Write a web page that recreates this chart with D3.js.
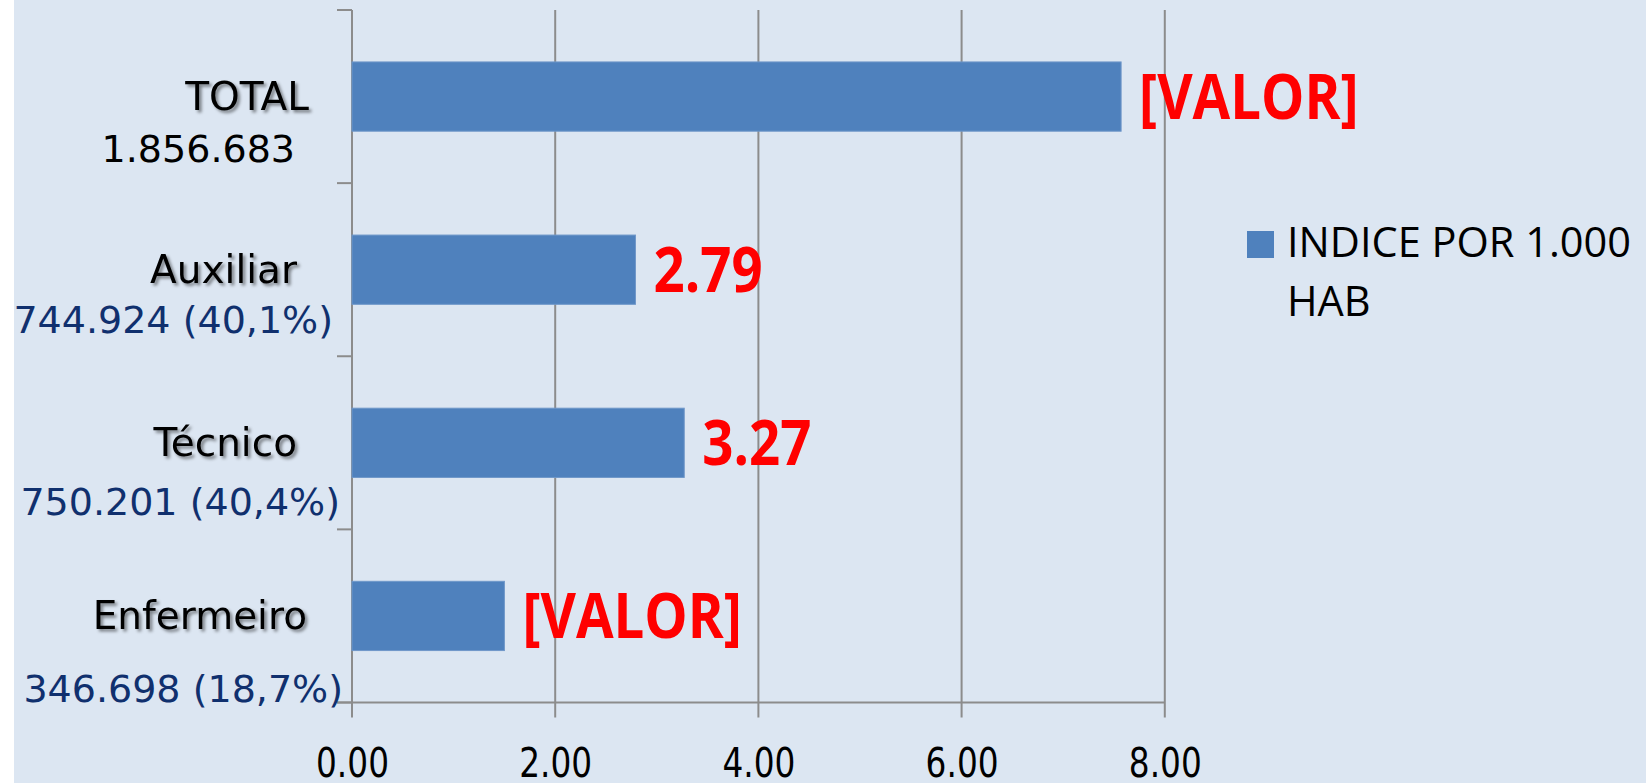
<!DOCTYPE html>
<html>
<head>
<meta charset="utf-8">
<script src="https://cdn.jsdelivr.net/npm/d3@7"></script>
<style>
  html, body { margin: 0; padding: 0; background: #ffffff; }
  svg { display: block; }
</style>
</head>
<body>
<svg id="chart" width="1646" height="783"></svg>
<script>
// ---- data ----
const categories = ["TOTAL", "Auxiliar", "Técnico", "Enfermeiro"];
const countLabels = ["1.856.683", "744.924 (40,1%)", "750.201 (40,4%)", "346.698 (18,7%)"];
const values = [7.57, 2.79, 3.27, 1.50];
const valueLabels = ["[VALOR]", "2.79", "3.27", "[VALOR]"];
const xTicks = [0, 2, 4, 6, 8];
const seriesName = ["INDICE POR 1.000", "HAB"];

// ---- layout / style ----
const W = 1646, H = 783;
const plot = { left: 352, right: 1164.8, top: 10, bottom: 702.5 };
const barColor = "#4F81BD";
const gridColor = "#8C8C8C";
const bg = "#DCE6F2";

const svg = d3.select("#chart");

const defs = svg.append("defs");
const f = defs.append("filter").attr("id", "shadow")
  .attr("x", "-10%").attr("y", "-20%").attr("width", "130%").attr("height", "160%");
f.append("feDropShadow").attr("dx", 2.5).attr("dy", 2.5).attr("stdDeviation", 1.6)
  .attr("flood-color", "#000").attr("flood-opacity", 0.45);

svg.append("rect").attr("x", 14).attr("y", 0).attr("width", W - 14).attr("height", H).attr("fill", bg);

const x = d3.scaleLinear().domain([0, 8]).range([plot.left, plot.right]);
const y = d3.scaleBand().domain(categories).range([plot.top, plot.bottom])
  .paddingInner(0.6).paddingOuter(0.3);

// vertical gridlines (extend below axis as ticks)
svg.append("g").selectAll("line").data(xTicks).join("line")
  .attr("x1", d => x(d)).attr("x2", d => x(d))
  .attr("y1", plot.top).attr("y2", plot.bottom + 15)
  .attr("stroke", gridColor).attr("stroke-width", 2);

// x axis line
svg.append("line").attr("x1", plot.left - 15).attr("x2", plot.right)
  .attr("y1", plot.bottom).attr("y2", plot.bottom)
  .attr("stroke", gridColor).attr("stroke-width", 2);

// category tick marks at band boundaries
const step = y.step();
const boundaries = d3.range(categories.length + 1).map(i => plot.top + i * step);
svg.append("g").selectAll("line").data(boundaries).join("line")
  .attr("x1", plot.left - 15).attr("x2", plot.left)
  .attr("y1", d => d).attr("y2", d => d)
  .attr("stroke", gridColor).attr("stroke-width", 2);

// x tick labels via d3 axis
const xAxis = d3.axisBottom(x).tickValues(xTicks).tickFormat(d3.format(".2f")).tickSize(0);
const gx = svg.append("g").attr("transform", `translate(0,${plot.bottom})`).call(xAxis);
gx.select(".domain").remove();
gx.selectAll("text")
  .attr("y", 0).attr("dy", 0)
  .attr("transform", "translate(0,74) scale(0.82,1)")
  .attr("font-family", "DejaVu Sans").attr("font-size", 40).attr("fill", "#000");

// bars
svg.append("g").selectAll("rect").data(values).join("rect")
  .attr("x", x(0))
  .attr("y", (d, i) => y(categories[i]))
  .attr("width", d => x(d) - x(0))
  .attr("height", y.bandwidth())
  .attr("fill", barColor)
  .attr("stroke", "#6F97C9").attr("stroke-width", 1);

// value labels
svg.append("g").selectAll("text").data(values).join("text")
  .attr("transform", (d, i) => `translate(${x(d) + 18},${y(categories[i]) + y.bandwidth() / 2 + 22}) scale(0.88,1)`)
  .attr("font-family", "Open Sans").attr("font-weight", 700).attr("font-size", 62)
  .attr("fill", "#FF0000")
  .text((d, i) => valueLabels[i]);

// category labels
const nameEnd = [309, 297, 297, 307];
const countEnd = [295, 333, 340, 343];
const countDy = [65, 63, 72, 86];
const lab = svg.append("g");
categories.forEach((c, i) => {
  const cy = y(c) + y.bandwidth() / 2;
  lab.append("text")
    .attr("x", nameEnd[i]).attr("y", cy + 13)
    .attr("text-anchor", "end")
    .attr("font-family", "DejaVu Sans").attr("font-size", 39).attr("fill", "#000")
    .attr("filter", "url(#shadow)")
    .text(c);
  lab.append("text")
    .attr("x", countEnd[i]).attr("y", cy + countDy[i])
    .attr("text-anchor", "end")
    .attr("font-family", "DejaVu Sans").attr("font-size", 38)
    .attr("fill", i === 0 ? "#000" : "#10306E")
    .text(countLabels[i]);
});

// legend
const lg = svg.append("g");
lg.append("rect").attr("x", 1247).attr("y", 231).attr("width", 27).attr("height", 27).attr("fill", barColor);
lg.selectAll("text").data(seriesName).join("text")
  .attr("x", 1287).attr("y", (d, i) => 257 + i * 59)
  .attr("font-family", "Open Sans").attr("font-size", 41.5).attr("fill", "#000")
  .text(d => d);
</script>
</body>
</html>
